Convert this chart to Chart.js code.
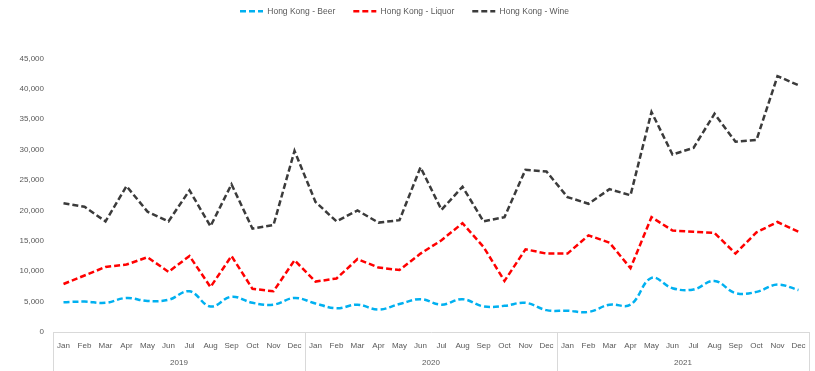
<!DOCTYPE html>
<html>
<head>
<meta charset="utf-8">
<script src="https://cdn.jsdelivr.net/npm/chart.js@4"></script>
<style>
  html, body { margin: 0; padding: 0; background: #fff; }
  #wrap { width: 815px; height: 371px; }
</style>
</head>
<body>
<div id="wrap"><canvas id="mainChart" width="815" height="371"></canvas></div>
<script>
const MONTHS = ['Jan', 'Feb', 'Mar', 'Apr', 'May', 'Jun', 'Jul', 'Aug', 'Sep', 'Oct', 'Nov', 'Dec'];
const YEARS  = ['2019', '2020', '2021'];

const beer   = [4900, 5000, 4800, 5600, 5100, 5300, 6700, 4200, 5800, 4800, 4500, 5600,
                4700, 3900, 4500, 3700, 4600, 5400, 4500, 5400, 4200, 4300, 4800, 3600,
                3500, 3300, 4500, 4500, 8900, 7200, 7000, 8400, 6400, 6600, 7800, 6900];
const liquor = [7900, 9300, 10700, 11100, 12300, 9900, 12500, 7400, 12500, 7100, 6700, 11800,
                8300, 8800, 12000, 10600, 10200, 12900, 15100, 17900, 14000, 8400, 13600, 12900,
                12900, 15900, 14700, 10500, 18900, 16700, 16500, 16300, 12900, 16400, 18100, 16500];
const wine   = [21200, 20600, 18200, 24000, 19800, 18200, 23300, 17400, 24300, 17000, 17600, 29800,
                21400, 18200, 20000, 18000, 18400, 27100, 20100, 23900, 18200, 18900, 26700, 26400,
                22200, 21100, 23500, 22500, 36200, 29200, 30300, 35900, 31300, 31600, 42100, 40600];

const labels = YEARS.flatMap(() => MONTHS);
const n      = labels.length;

const textColor = '#595959';
const axisColor = '#d9d9d9';
const font      = { family: "'Liberation Sans', Arial, sans-serif", size: 8 };
const DASH      = [6, 3];

const line = (label, data, color, tension) => ({
  label, data, borderColor: color, backgroundColor: color,
  borderWidth: 2.5, borderDash: DASH, pointRadius: 0, pointHoverRadius: 0,
  fill: false, tension, xAxisID: 'x', yAxisID: 'y',
});

// year row: boundaries between years + centres for the year labels
const yearTicks = [];
YEARS.forEach((y, i) => {
  yearTicks.push({ value: i * 12 - 0.5 });
  yearTicks.push({ value: i * 12 + 5.5, label: y });
});
yearTicks.push({ value: n - 0.5 });

const legendLabels = chart => {
  const items = Chart.defaults.plugins.legend.labels.generateLabels(chart);
  items.forEach(it => {
    const ds = chart.data.datasets[it.datasetIndex];
    it.lineDash = ds.borderDash;
    it.lineWidth = ds.borderWidth;
    it.strokeStyle = ds.borderColor;
  });
  return items;
};

new Chart(document.getElementById('mainChart'), {
  type: 'line',
  data: {
    labels,
    datasets: [
      line('Hong Kong - Beer',   beer,   '#00b0f0', 0.4),
      line('Hong Kong - Liquor', liquor, '#ff0000', 0),
      line('Hong Kong - Wine',   wine,   '#3b3b3b', 0),
    ],
  },
  options: {
    responsive: false, devicePixelRatio: 1, animation: false,
    layout: { padding: { top: -11, right: 6, left: 0, bottom: 0 } },
    plugins: {
      legend: {
        position: 'top',
        labels: {
          usePointStyle: true, pointStyle: 'line', pointStyleWidth: 23,
          boxHeight: 8, padding: 18, color: textColor,
          font: { family: "'Liberation Sans', Arial, sans-serif", size: 8.5 },
          generateLabels: legendLabels,
        },
      },
      // empty spacer below the legend (Excel leaves a blank title band)
      title: { display: true, text: '', weight: 500, font: { size: 10 }, padding: { top: 0, bottom: 21 } },
      tooltip: { enabled: false },
    },
    scales: {
      x: {
        type: 'category', offset: true, position: 'bottom',
        border: { display: true, color: axisColor, width: 1 },
        grid: {
          display: true, drawOnChartArea: false, offset: true, tickLength: 20, lineWidth: 1,
          color: ctx => (ctx.index === undefined || ctx.index % 12 === 0) ? axisColor : 'rgba(0,0,0,0)',
        },
        ticks: { color: textColor, font, padding: -11, maxRotation: 0, autoSkip: false },
        afterFit: s => { s.height = 20; },
      },
      x2: {
        type: 'linear', position: 'bottom', min: -0.5, max: n - 0.5,
        border: { display: false },
        grid: {
          display: true, drawOnChartArea: false, tickLength: 19, lineWidth: 1,
          color: ctx => (ctx.tick && ctx.tick.label) ? 'rgba(0,0,0,0)' : axisColor,
        },
        afterBuildTicks: s => { s.ticks = yearTicks.map(t => ({ ...t })); },
        ticks: {
          color: textColor, font, padding: -13, maxRotation: 0, autoSkip: false,
          callback: (v, i, ticks) => ticks[i].label || '',
        },
        afterFit: s => { s.height = 19; },
      },
      y: {
        min: 0, max: 45000,
        border: { display: false },
        grid: { display: false, drawTicks: false },
        ticks: {
          stepSize: 5000, color: textColor, font, padding: 9,
          callback: v => v.toLocaleString('en-US'),
        },
        afterFit: s => { s.width = 53; },
      },
    },
  },
});
</script>
</body>
</html>
